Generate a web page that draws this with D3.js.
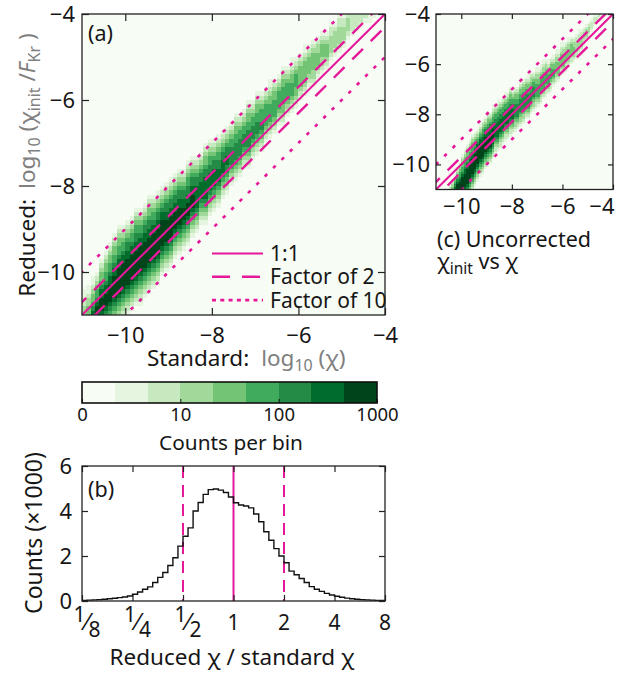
<!DOCTYPE html>
<html><head><meta charset="utf-8">
<script src="https://cdn.jsdelivr.net/npm/d3@7"></script>
<style>
body{margin:0;background:#fff}
svg{display:block}
text{font-family:"Noto Sans","DejaVu Sans",sans-serif}
</style>
</head><body>
<svg id="fig" width="618" height="679"></svg>
<script>
// ---------------- DATA ----------------
const axisDomain = [-11, -4];          // log10 range of both heat-map axes
const axisTicks = [-10, -8, -6, -4];
const binWidth = 0.1;                  // heat-map bin size (log10 units)
const refFactors = [1, 2, 10];         // 1:1, factor of 2, factor of 10
const legendLabels = ["1:1", "Factor of 2", "Factor of 10"];

// colour classes (0 = empty bin ... 8 = ~1000 counts)
const colorbarTickLabels = ["0", "10", "100", "1000"];
const colorbarTickClass = [0, 3, 6, 9];

// Panel (a): one entry per x-bin (x = -11 + 0.1*i):
// [first row offset from the 1:1 diagonal (bins), colour class of each successive y-bin]
const colsA = [
  [-8,"12345544332211"],[-9,"123456654433211"],[-9,"1234567765443211"],[-10,"12345678876554321"],
  [-10,"1234567888776544321"],[-10,"12345678887765544321"],[-10,"123456788887765544321"],[-10,"1234567888887765544321"],
  [-10,"12345678888887765544321"],[-10,"1234567888888776554321"],[-11,"11234567888888776654321"],[-10,"1234567888888776554321"],
  [-10,"12345678888887766554321"],[-11,"12234567888888776554321"],[-10,"1234567888888776654321"],[-10,"12345678888887766544321"],
  [-10,"1234567888888776554321"],[-10,"1234567888888776654321"],[-9,"123456788888877654321"],[-9,"123456788888776654321"],
  [-9,"123456788888776654321"],[-8,"12345678888776654321"],[-8,"12345678888776654321"],[-8,"1234567888776654321"],
  [-8,"12345678887766554321"],[-7,"1234567888776654321"],[-7,"123456777776654321"],[-6,"12345677776654321"],
  [-7,"1234567777766544321"],[-6,"123456777766554321"],[-6,"12345677776654321"],[-6,"12345677766554321"],
  [-5,"1234567776654321"],[-5,"1234566776654321"],[-4,"123456666554321"],[-4,"1234566665544321"],
  [-4,"123456666554321"],[-3,"12345666554321"],[-4,"1234566665544321"],[-3,"12345666554321"],
  [-3,"123456665544321"],[-3,"12345665554321"],[-2,"1234555554321"],[-2,"12345555443211"],
  [-2,"1234555544321"],[-1,"123455554321"],[-2,"12344555544321"],[-1,"123455554321"],
  [-1,"1234555443211"],[-1,"123445554321"],[0,"12344444321"],[0,"123444443211"],
  [1,"1234444321"],[0,"12334444321"],[1,"1234443321"],[1,"1233444321"],
  [1,"123444321"],[2,"123333221"],[2,"12333321"],[2,"123333221"],
  [2,"12333221"],[3,"1233321"],[3,"122221"],[3,"12222"],
  [3,"1221"],[3,"121"],[2,"11"],[2,"1"],[0,""],[0,""]
];

// Panel (c): same layout, uncorrected chi_init vs chi
const colsC = [
  [0,""],[0,""],[0,""],[0,""],[0,""],
  [-5,"21"],[-6,"4321"],[-7,"765421"],[-8,"887654321"],[-9,"88876554321"],
  [-10,"78888765544321"],[-11,"7888887765544321"],[-12,"678888887765544321"],[-13,"45678888887765544321"],
  [-14,"2345678888887765544321"],[-14,"1234567888888776554321"],[-13,"123456788888877654321"],[-12,"1234567888888776543211"],
  [-12,"1234567888888776554321"],[-11,"123456788888877654321"],[-11,"1234567888887766544321"],[-11,"123456788888776654321"],
  [-10,"1234567888887765543211"],[-9,"12234567777766554321"],[-9,"123456777777665543211"],[-9,"12234567777766554321"],
  [-8,"1234567777766554321"],[-8,"12234567777665543211"],[-8,"1234567777766554321"],[-8,"12234567777665544321"],
  [-8,"123456777766554321"],[-8,"123345666665544321"],[-8,"12345666665544321"],[-8,"1233456666655443211"],
  [-8,"123345666665544321"],[-7,"12345666665544321"],[-8,"123456666655443211"],[-7,"12345666655443321"],
  [-7,"1233456666554321"],[-7,"12234555554433211"],[-7,"1234555554433211"],[-7,"1223455555443211"],
  [-6,"1234555554433211"],[-6,"122345555443321"],[-6,"12345555443211"],[-6,"12234555544321"],
  [-5,"1234555443211"],[-5,"12234444433211"],[-5,"1234444433211"],[-4,"12234444432211"],
  [-4,"1234444433211"],[-4,"122344443321"],[-3,"123444433211"],[-3,"12234444321"],
  [-3,"1234443321"],[-3,"1223333221"],[-2,"1233332211"],[-2,"123333221"],
  [-1,"12233321"],[0,"1233321"],[1,"123321"],[2,"12221"],
  [3,"12221"],[3,"1221"],[4,"121"],[3,"11"],[3,"1"],[0,""],[0,""],[0,""]
];

// Panel (b): histogram of log2(reduced / standard), bins of 0.1 octave from -3 to +3, counts in thousands
const histStart = -3, histBin = 0.1;
const histCounts = [
  0.03,0.04,0.05,0.06,0.08,0.10,0.12,0.15,0.18,0.22,
  0.30,0.40,0.52,0.63,0.82,1.05,1.27,1.58,1.92,2.44,
  2.88,3.25,4.00,4.38,4.74,4.95,4.98,4.93,4.82,4.62,
  4.37,4.27,4.22,4.14,3.87,3.52,3.08,2.70,2.33,2.00,
  1.70,1.33,1.17,1.00,0.82,0.64,0.52,0.43,0.34,0.27,
  0.21,0.17,0.13,0.10,0.08,0.06,0.05,0.04,0.03,0.02
];
const histXTicks = [-3,-2,-1,0,1,2,3];
const histXTickLabels = ["1/8","1/4","1/2","1","2","4","8"];
const histYTicks = [0,2,4,6];
const histRefLines = [-1,0,1];

// ---------------- DRAWING ----------------
const svg = d3.select("#fig");
const pink = "#e5189a";
const gray = "#808080";
const ink = "#161616";
const frameCol = "#222";
const greens = d3.schemeGreens[9];
const nBins = Math.round((axisDomain[1]-axisDomain[0])/binWidth);
const fmtInt = d3.format("d");

function lineStyle(f){
  if (f===1) return {w:2.1, dash:null};
  if (f===2) return {w:2.4, dash:"15,11"};
  return {w:2.6, dash:"3.5,8.3"};
}

function heatPanel(id, box, cols, opt){
  const g = svg.append("g");
  const x = d3.scaleLinear().domain(axisDomain).range([box.x0, box.x1]);
  const y = d3.scaleLinear().domain(axisDomain).range([box.y1, box.y0]);
  g.append("rect").attr("x",box.x0).attr("y",box.y0).attr("width",box.x1-box.x0).attr("height",box.y1-box.y0)
    .attr("fill",greens[0]);
  const cells = [];
  cols.forEach(([off,str],u)=>{
    for (let k=0;k<str.length;k++){
      const lv = +str[k];
      const row = u+off+k;
      if (lv>0 && row>=0 && row<nBins) cells.push({u,row,lv});
    }
  });
  g.append("g").selectAll("rect").data(cells).join("rect")
    .attr("x",d=>x(axisDomain[0]+d.u*binWidth))
    .attr("y",d=>y(axisDomain[0]+(d.row+1)*binWidth))
    .attr("width",d=>x(axisDomain[0]+(d.u+1)*binWidth)-x(axisDomain[0]+d.u*binWidth))
    .attr("height",d=>y(axisDomain[0]+d.row*binWidth)-y(axisDomain[0]+(d.row+1)*binWidth))
    .attr("fill",d=>greens[d.lv]).attr("shape-rendering","crispEdges");
  const clipId = "clip"+id;
  svg.append("clipPath").attr("id",clipId).append("rect")
    .attr("x",box.x0).attr("y",box.y0).attr("width",box.x1-box.x0).attr("height",box.y1-box.y0);
  const lines = [];
  refFactors.forEach(f=>{
    const o = Math.log10(f);
    (f===1?[0]:[o,-o]).forEach(off=>lines.push({f,off}));
  });
  g.append("g").attr("clip-path",`url(#${clipId})`).selectAll("line").data(lines).join("line")
    .attr("x1",d=>x(axisDomain[0]-1)).attr("y1",d=>y(axisDomain[0]-1+d.off))
    .attr("x2",d=>x(axisDomain[1]+1)).attr("y2",d=>y(axisDomain[1]+1+d.off))
    .attr("stroke",pink).attr("stroke-width",d=>lineStyle(d.f).w*opt.lw)
    .attr("stroke-dasharray",d=>lineStyle(d.f).dash);
  const tl = opt.tick;
  const styleAxis = a=>{
    a.select(".domain").remove();
    a.selectAll("line").attr("stroke",frameCol).attr("stroke-width",1.2);
    a.selectAll("text").attr("font-size",opt.fs).attr("fill",ink).attr("font-family",null);
  };
  const bx = g.append("g").attr("transform",`translate(0,${box.y1})`)
    .call(d3.axisBottom(x).tickValues(axisTicks).tickSize(-tl).tickPadding(opt.padB).tickFormat(fmtInt)).call(styleAxis);
  g.append("g").attr("transform",`translate(${box.x0},0)`)
    .call(d3.axisLeft(y).tickValues(axisTicks).tickSize(-tl).tickPadding(opt.padL).tickFormat(fmtInt)).call(styleAxis);
  g.append("g").attr("transform",`translate(0,${box.y0})`)
    .call(d3.axisTop(x).tickValues(axisTicks).tickSize(-tl).tickFormat("")).call(styleAxis);
  g.append("g").attr("transform",`translate(${box.x1},0)`)
    .call(d3.axisRight(y).tickValues(axisTicks).tickSize(-tl).tickFormat("")).call(styleAxis);
  g.append("rect").attr("x",box.x0).attr("y",box.y0).attr("width",box.x1-box.x0).attr("height",box.y1-box.y0)
    .attr("fill","none").attr("stroke",frameCol).attr("stroke-width",1.3);
  return {g,x,y,bx};
}

// Panel (a)
const A = heatPanel("a",{x0:82,x1:385,y0:14,y1:315},colsA,{tick:7,padB:12,padL:7,fs:22,lw:1});
A.g.append("text").attr("x",88).attr("y",41).attr("font-size",21.5).attr("fill",ink).text("(a)");
const leg = A.g.append("g");
legendLabels.forEach((lab,i)=>{
  const f = refFactors[i], st = lineStyle(f);
  const yy = 253.5 + i*23.3;
  leg.append("line").attr("x1",212).attr("x2",263).attr("y1",yy).attr("y2",yy)
    .attr("stroke",pink).attr("stroke-width",st.w)
    .attr("stroke-dasharray", f===1?null:(f===2?"18,12":"4,4.3"));
  leg.append("text").attr("x",270).attr("y",yy+7.5).attr("font-size",21).attr("fill",ink).text(lab);
});
const xt = svg.append("text").attr("x",147).attr("y",366).attr("font-size",22.5).attr("fill",ink);
xt.append("tspan").text("Standard:");
xt.append("tspan").attr("fill",gray).attr("dx",12).text("log");
xt.append("tspan").attr("fill",gray).attr("font-size",16).attr("dy",5).text("10");
xt.append("tspan").attr("fill",gray).attr("dy",-5).text(" (\u03c7)");

const yt = svg.append("text").attr("transform","translate(35,165) rotate(-90)")
  .attr("text-anchor","middle").attr("font-size",22.5).attr("fill",ink);
yt.append("tspan").text("Reduced:");
yt.append("tspan").attr("fill",gray).attr("dx",10).text("log");
yt.append("tspan").attr("fill",gray).attr("font-size",16).attr("dy",5).text("10");
yt.append("tspan").attr("fill",gray).attr("dy",-5).text(" (\u03c7");
yt.append("tspan").attr("fill",gray).attr("font-size",16).attr("dy",5).text("init");
yt.append("tspan").attr("fill",gray).attr("dy",-5).text(" /");
yt.append("tspan").attr("fill",gray).attr("font-style","italic").text("F");
yt.append("tspan").attr("fill",gray).attr("font-size",16).attr("dy",5).text("Kr");
yt.append("tspan").attr("fill",gray).attr("dy",-5).text(" )");

// Panel (c)
const C = heatPanel("c",{x0:436,x1:613,y0:14,y1:189.5},colsC,{tick:5,padB:9,padL:6,fs:22,lw:1});
C.bx.selectAll(".tick").filter(d=>d===axisDomain[1]).select("text").attr("text-anchor","end").attr("x",1);
svg.append("text").attr("x",437).attr("y",247).attr("font-size",21.5).attr("fill",ink).text("(c) Uncorrected");
const ct = svg.append("text").attr("x",437).attr("y",269).attr("font-size",21.5).attr("fill",ink);
ct.append("tspan").text("\u03c7");
ct.append("tspan").attr("font-size",15.5).attr("dy",5).text("init");
ct.append("tspan").attr("dy",-5).text(" vs \u03c7");

// Colorbar
const cb = {x0:82,x1:377,y0:382,y1:403};
const cx = d3.scaleLinear().domain([0,9]).range([cb.x0,cb.x1]);
svg.append("g").selectAll("rect").data(d3.range(9)).join("rect")
  .attr("x",d=>cx(d)).attr("y",cb.y0).attr("width",d=>cx(d+1)-cx(d)).attr("height",cb.y1-cb.y0)
  .attr("fill",d=>greens[d]).attr("shape-rendering","crispEdges");
const cbAx = svg.append("g").attr("transform",`translate(0,${cb.y1})`)
  .call(d3.axisBottom(cx).tickValues(colorbarTickClass).tickSize(-4).tickPadding(5)
    .tickFormat((d,i)=>colorbarTickLabels[i]));
cbAx.select(".domain").remove();
cbAx.selectAll("line").attr("stroke","#111");
cbAx.selectAll("text").attr("font-size",18.5).attr("fill",ink).attr("font-family",null);
svg.append("rect").attr("x",cb.x0).attr("y",cb.y0).attr("width",cb.x1-cb.x0).attr("height",cb.y1-cb.y0)
  .attr("fill","none").attr("stroke","#111").attr("stroke-width",1.6);
svg.append("text").attr("x",231).attr("y",450).attr("text-anchor","middle").attr("font-size",20.8)
  .attr("fill",ink).text("Counts per bin");

// Panel (b) histogram
const hb = {x0:82,x1:385,y0:466,y1:601};
const hx = d3.scaleLinear().domain([-3,3]).range([hb.x0,hb.x1]);
const hy = d3.scaleLinear().domain([0,6]).range([hb.y1,hb.y0]);
const hg = svg.append("g");
hg.append("g").selectAll("line").data(histRefLines).join("line")
  .attr("x1",d=>hx(d)).attr("x2",d=>hx(d)).attr("y1",hb.y0).attr("y2",hb.y1)
  .attr("stroke",pink).attr("stroke-width",2)
  .attr("stroke-dasharray",d=>d===0?null:"12,7");
const pts = histCounts.map((v,i)=>[histStart+i*histBin, v]);
pts.push([histStart+histCounts.length*histBin, histCounts[histCounts.length-1]]);
hg.append("path").datum(pts)
  .attr("d",d3.line().x(d=>hx(d[0])).y(d=>hy(d[1])).curve(d3.curveStepAfter))
  .attr("fill","none").attr("stroke","#111").attr("stroke-width",1.4);
const sAx = a=>{a.select(".domain").remove();a.selectAll("line").attr("stroke",frameCol).attr("stroke-width",1.2);
  a.selectAll("text").attr("font-size",22).attr("fill",ink).attr("font-family",null);};
hg.append("g").attr("transform",`translate(0,${hb.y1})`).call(d3.axisBottom(hx).tickValues(histXTicks).tickSize(-6).tickFormat("")).call(sAx);
hg.append("g").attr("transform",`translate(0,${hb.y0})`).call(d3.axisTop(hx).tickValues(histXTicks).tickSize(-6).tickFormat("")).call(sAx);
hg.append("g").attr("transform",`translate(${hb.x0},0)`).call(d3.axisLeft(hy).tickValues(histYTicks).tickSize(-6).tickPadding(10).tickFormat(fmtInt)).call(sAx);
hg.append("g").attr("transform",`translate(${hb.x1},0)`).call(d3.axisRight(hy).tickValues(histYTicks).tickSize(-6).tickFormat("")).call(sAx);
hg.append("rect").attr("x",hb.x0).attr("y",hb.y0).attr("width",hb.x1-hb.x0).attr("height",hb.y1-hb.y0)
  .attr("fill","none").attr("stroke",frameCol).attr("stroke-width",1.3);
histXTicks.forEach((t,i)=>{
  const lab = histXTickLabels[i];
  if (lab.includes("/")){
    const [n,d] = lab.split("/");
    const tx = hg.append("text").attr("x",hx(t)+5).attr("y",630).attr("text-anchor","middle")
      .attr("font-size",21).attr("fill",ink);
    tx.append("tspan").attr("dy",-8).text(n);
    tx.append("tspan").attr("dy",8).attr("font-size",24).text("\u2044");
    tx.append("tspan").attr("dy",7).text(d);
  } else {
    hg.append("text").attr("x",hx(t)).attr("y",630).attr("text-anchor","middle")
      .attr("font-size",21).attr("fill",ink).text(lab);
  }
});
hg.append("text").attr("x",88).attr("y",497).attr("font-size",21.5).attr("fill",ink).text("(b)");
svg.append("text").attr("transform","translate(42,533) rotate(-90)").attr("text-anchor","middle")
  .attr("font-size",23).attr("fill",ink).text("Counts (\u00d71000)");
svg.append("text").attr("x",232).attr("y",665).attr("text-anchor","middle").attr("font-size",22.5)
  .attr("fill",ink).text("Reduced \u03c7 / standard \u03c7");
</script>
</body></html>
